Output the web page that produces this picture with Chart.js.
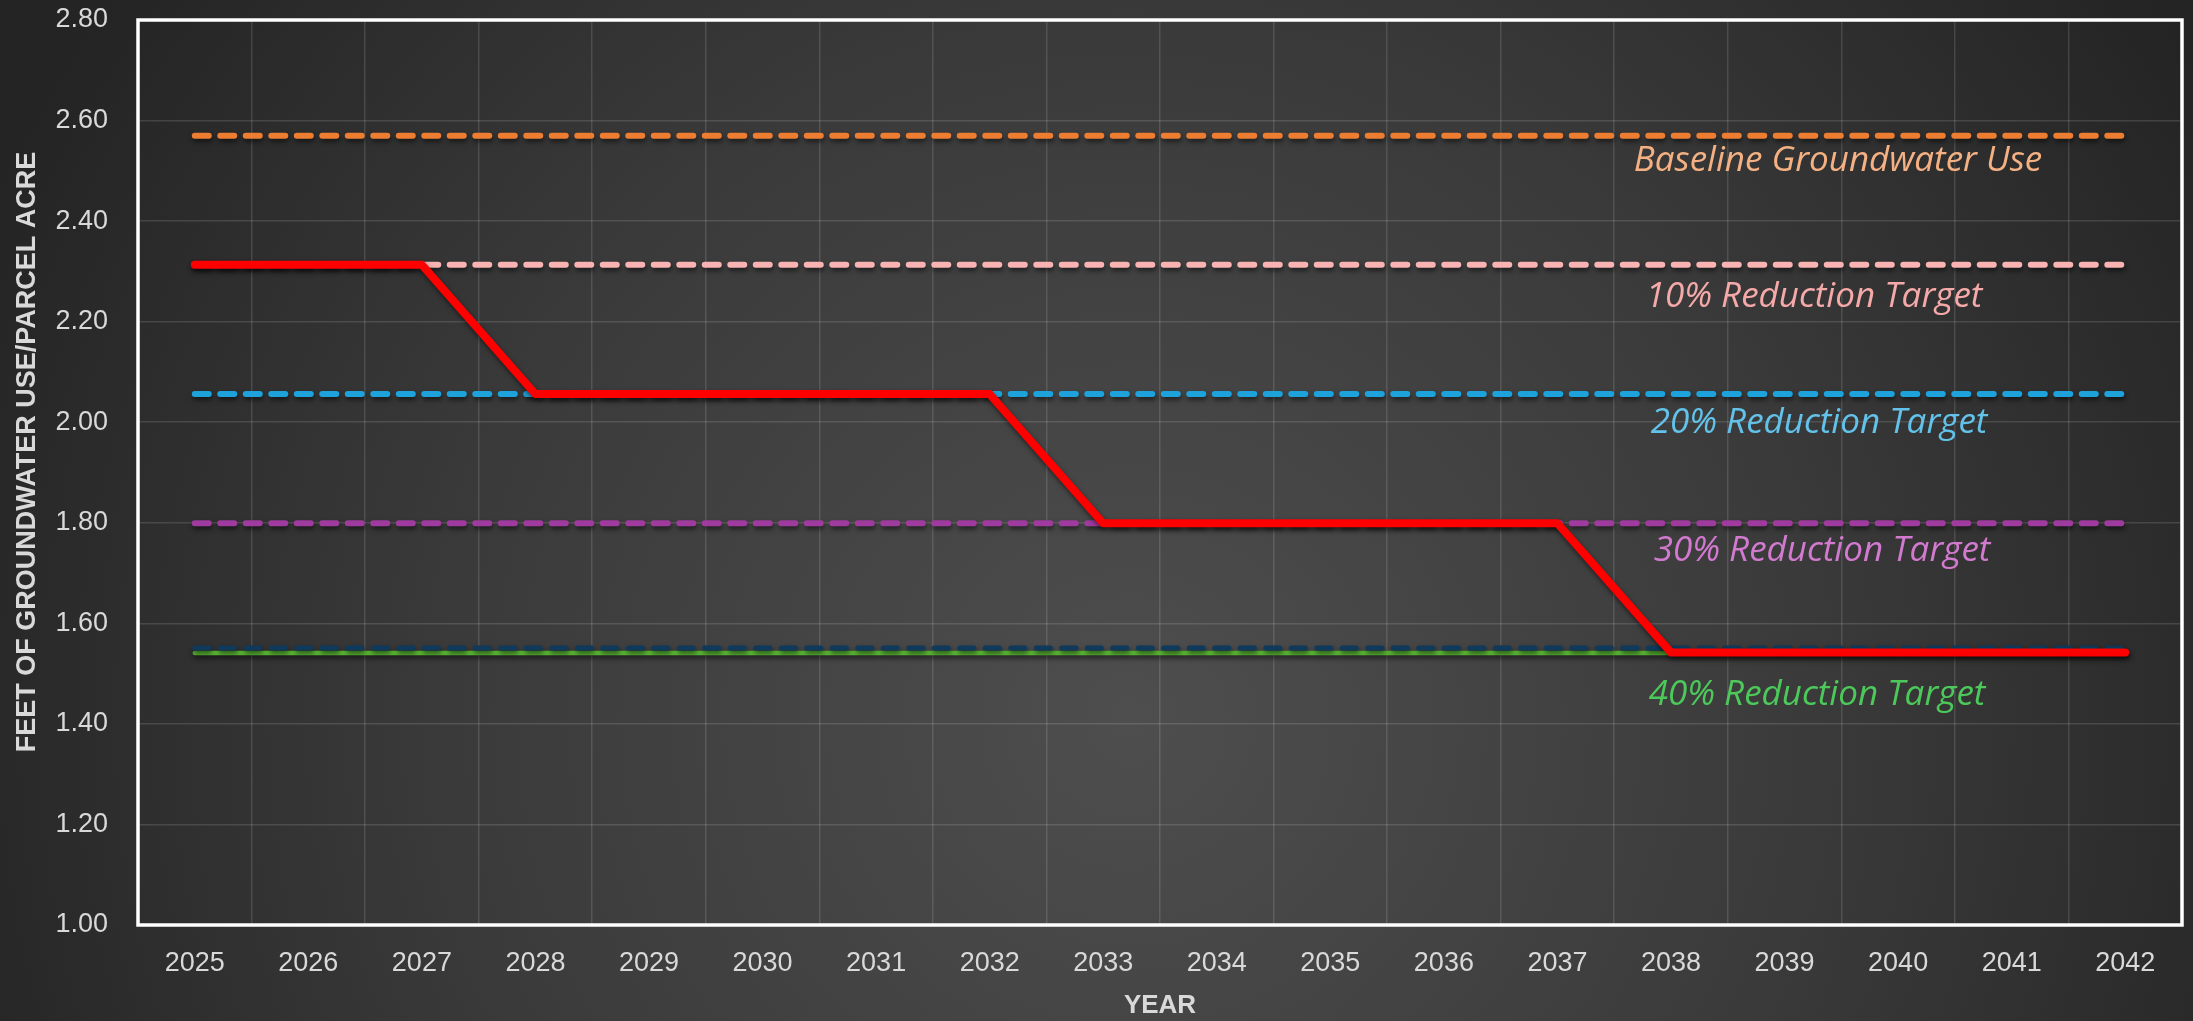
<!DOCTYPE html>
<html>
<head>
<meta charset="utf-8">
<script src="https://cdn.jsdelivr.net/npm/chart.js@4.4.1/dist/chart.umd.min.js"></script>
<style>
html,body{margin:0;padding:0;background:#2a2a2a;}
#wrap{width:2193px;height:1021px;position:relative;}
</style>
</head>
<body>
<div id="wrap"><canvas id="c" width="2193" height="1021"></canvas></div>
<script>
const years = ['2025','2026','2027','2028','2029','2030','2031','2032','2033','2034','2035','2036','2037','2038','2039','2040','2041','2042'];
const yTicks = [1.00,1.20,1.40,1.60,1.80,2.00,2.20,2.40,2.60,2.80];
const allocation = [2.313,2.313,2.313,2.056,2.056,2.056,2.056,2.056,1.799,1.799,1.799,1.799,1.799,1.542,1.542,1.542,1.542,1.542];
const baseline = [2.57,2.57,2.57,2.57,2.57,2.57,2.57,2.57,2.57,2.57,2.57,2.57,2.57,2.57,2.57,2.57,2.57,2.57];
const target10 = [2.313,2.313,2.313,2.313,2.313,2.313,2.313,2.313,2.313,2.313,2.313,2.313,2.313,2.313,2.313,2.313,2.313,2.313];
const target20 = [2.056,2.056,2.056,2.056,2.056,2.056,2.056,2.056,2.056,2.056,2.056,2.056,2.056,2.056,2.056,2.056,2.056,2.056];
const target30 = [1.799,1.799,1.799,1.799,1.799,1.799,1.799,1.799,1.799,1.799,1.799,1.799,1.799,1.799,1.799,1.799,1.799,1.799];
const target40 = [1.551,1.551,1.551,1.551,1.551,1.551,1.551,1.551,1.551,1.551,1.551,1.551,1.551,1.551,1.551,1.551,1.551,1.551];
const target40b = [1.541,1.541,1.541,1.541,1.541,1.541,1.541,1.541,1.541,1.541,1.541,1.541,1.541,1.541,1.541,1.541,1.541,1.541];
const lineLabels = ['Baseline Groundwater Use','10% Reduction Target','20% Reduction Target','30% Reduction Target','40% Reduction Target'];
const lineLabelValues = [2.57, 2.313, 2.056, 1.799, 1.542];
const lineLabelColors = ['#F4B183','#F6A9A9','#62C2EA','#D27AD0','#4CC95A'];
const yTitle = 'FEET OF GROUNDWATER USE/PARCEL ACRE';
const xTitle = 'YEAR';

const bgPlugin = {
  id: 'bg',
  beforeDraw(chart) {
    const ctx = chart.ctx;
    const w = chart.width, h = chart.height;
    ctx.save();
    const g = ctx.createRadialGradient(1130, 720, 0, 1130, 720, 1250);
    g.addColorStop(0, '#4e4e4e');
    g.addColorStop(0.55, '#3a3a3a');
    g.addColorStop(1, '#242424');
    ctx.fillStyle = g;
    ctx.fillRect(0, 0, w, h);
    ctx.restore();
  }
};

const frameAndText = {
  id: 'frameText',
  beforeDatasetsDraw(chart) {
    const {ctx, chartArea: a} = chart;
    ctx.save();
    ctx.strokeStyle = '#ffffff';
    ctx.lineWidth = 3.5;
    ctx.strokeRect(a.left, a.top, a.right - a.left, a.bottom - a.top);
    ctx.restore();
  },
  beforeDatasetDraw(chart, args) {
    const ctx = chart.ctx;
    ctx.save();
    ctx.shadowColor = 'rgba(0,0,0,0.55)';
    ctx.shadowBlur = 5;
    ctx.shadowOffsetX = 1;
    ctx.shadowOffsetY = 3;
  },
  afterDatasetDraw(chart) {
    chart.ctx.restore();
  },
  afterDraw(chart) {
    const ctx = chart.ctx;
    const y = chart.scales.y;
    const offs = [25, 32, 29, 28, 43];
    const xs = [1838, 1814, 1819, 1822, 1817];
    ctx.save();
    ctx.font = 'italic 35px "Open Sans"';
    ctx.textAlign = 'center';
    ctx.textBaseline = 'middle';
    for (let i = 0; i < lineLabels.length; i++) {
      ctx.fillStyle = lineLabelColors[i];
      ctx.fillText(lineLabels[i], xs[i], y.getPixelForValue(lineLabelValues[i]) + offs[i]);
    }
    ctx.fillStyle = '#d9d9d9';
    ctx.font = 'bold 26px "Liberation Sans"';
    ctx.fillText(xTitle, 1160, 1006);
    ctx.translate(28, 452);
    ctx.rotate(-Math.PI / 2);
    ctx.font = 'bold 27px "Liberation Sans"';
    ctx.fillText(yTitle, 0, 0);
    ctx.restore();
  }
};

const dashed = (label, data, color, width) => ({
  label, data, borderColor: color, borderWidth: width || 6,
  borderDash: [14, 11.5], borderCapStyle: 'round', pointRadius: 0, tension: 0, fill: false
});

new Chart(document.getElementById('c'), {
  type: 'line',
  data: {
    labels: years,
    datasets: [
      { label: 'Allocation', data: allocation, borderColor: '#FF0000', borderWidth: 8, borderCapStyle: 'round', borderJoinStyle: 'round', pointRadius: 0, tension: 0, fill: false },
      dashed('Baseline Groundwater Use', baseline, '#ED7D31'),
      dashed('10% Reduction Target', target10, '#F9B3B3'),
      dashed('20% Reduction Target', target20, '#1EA2DB'),
      dashed('30% Reduction Target', target30, '#9F3A9F'),
      dashed('40% Reduction Target', target40, '#0F3A5C', 5),
      { label: '40% Reduction Target (solid)', data: target40b, borderColor: '#58B533', borderWidth: 4.5, borderCapStyle: 'round', pointRadius: 0, tension: 0, fill: false }
    ]
  },
  options: {
    responsive: false,
    animation: false,
    devicePixelRatio: 1,
    layout: { padding: { top: 20, right: 11, left: 0, bottom: 0 } },
    plugins: { legend: { display: false }, tooltip: { enabled: false } },
    scales: {
      x: {
        offset: true,
        grid: { color: 'rgba(255,255,255,0.13)', lineWidth: 1.5, drawTicks: false, offset: true },
        border: { display: false },
        ticks: { color: '#d9d9d9', font: { family: '"Liberation Sans"', size: 27 }, padding: 22, maxRotation: 0, autoSkip: false },
        afterFit(s) { s.height = 96; s.paddingLeft = 0; s.paddingRight = 0; }
      },
      y: {
        min: 1.0, max: 2.8,
        grid: { color: 'rgba(255,255,255,0.13)', lineWidth: 1.5, drawTicks: false },
        border: { display: false },
        afterBuildTicks(s) { s.ticks = yTicks.map(v => ({ value: v })); },
        ticks: { color: '#d9d9d9', font: { family: '"Liberation Sans"', size: 27 }, padding: 30, callback: v => Number(v).toFixed(2) },
        afterFit(s) { s.width = 138; s.paddingTop = 0; s.paddingBottom = 0; }
      }
    }
  },
  plugins: [bgPlugin, frameAndText]
});
</script>
</body>
</html>
